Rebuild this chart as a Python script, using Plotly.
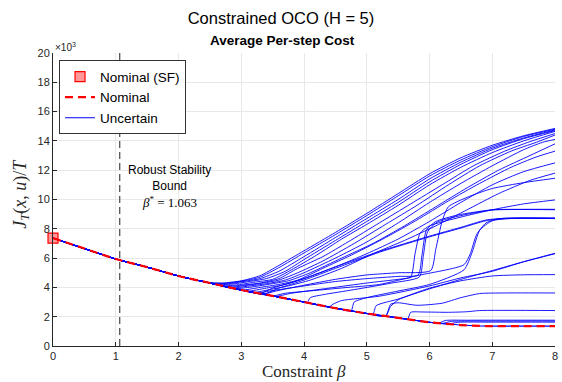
import plotly.graph_objects as go

# ---------------- data (values in units of 10^3) ----------------
NOM_B = [0, 0.5, 1, 1.5, 2, 2.5, 3, 3.5, 4, 4.5, 5, 5.5, 6, 6.5, 6.8, 7, 7.5, 8]
NOM_V = [7.37, 6.65, 5.94, 5.38, 4.78, 4.3, 3.82, 3.42, 3.0, 2.58, 2.22, 1.92, 1.62, 1.43, 1.37, 1.36, 1.36, 1.36]

SF_B = [0]
SF_V = [7.37]

BOUND_BETA = 1.063

# uncertain runs: knots (beta, cost) after leaving the nominal curve
U01 = [(2.45, 4.35), (2.7, 4.3), (3.0, 4.45), (3.3, 4.8), (3.6, 5.5), (4.0, 6.5), (4.5, 7.75), (5.0, 9.05), (5.5, 10.4), (6.0, 11.75), (6.5, 12.85), (7.0, 13.7), (7.5, 14.35), (8.0, 14.85)]
U02 = [(2.5, 4.3), (2.75, 4.28), (3.0, 4.42), (3.3, 4.7), (3.6, 5.35), (4.0, 6.35), (4.5, 7.6), (5.0, 8.9), (5.5, 10.25), (6.0, 11.6), (6.5, 12.7), (7.0, 13.6), (7.5, 14.3), (8.0, 14.8)]
U03 = [(2.55, 4.25), (2.8, 4.25), (3.0, 4.38), (3.3, 4.6), (3.6, 5.1), (4.0, 6.1), (4.5, 7.4), (5.0, 8.7), (5.5, 10.0), (6.0, 11.4), (6.5, 12.55), (7.0, 13.5), (7.5, 14.2), (8.0, 14.75)]
U04 = [(2.6, 4.2), (2.85, 4.22), (3.1, 4.38), (3.4, 4.6), (3.7, 5.1), (4.0, 5.9), (4.5, 7.2), (5.0, 8.5), (5.5, 9.8), (6.0, 11.2), (6.5, 12.4), (7.0, 13.4), (7.5, 14.15), (8.0, 14.7)]
U05 = [(2.7, 4.11), (2.95, 4.18), (3.2, 4.35), (3.5, 4.55), (3.8, 5.2), (4.2, 6.2), (4.6, 7.3), (5.0, 8.3), (5.5, 9.6), (6.0, 11.0), (6.5, 12.2), (7.0, 13.2), (7.5, 14.0), (8.0, 14.65)]
U06 = [(2.75, 4.06), (3.0, 4.15), (3.3, 4.3), (3.6, 4.6), (3.9, 5.3), (4.3, 6.1), (4.7, 7.1), (5.2, 8.4), (5.7, 9.7), (6.2, 11.0), (6.7, 12.3), (7.2, 13.3), (7.6, 13.95), (8.0, 14.5)]
U07 = [(2.8, 4.01), (3.05, 4.12), (3.35, 4.3), (3.6, 4.5), (3.9, 5.0), (4.3, 5.8), (4.8, 7.0), (5.3, 8.3), (5.8, 9.6), (6.3, 11.0), (6.8, 12.3), (7.3, 13.3), (7.7, 13.9), (8.0, 14.4)]
U08 = [(2.85, 3.96), (3.1, 4.08), (3.4, 4.25), (3.7, 4.5), (4.0, 5.0), (4.5, 6.0), (5.0, 7.1), (5.5, 8.4), (6.0, 9.8), (6.5, 11.1), (7.0, 12.3), (7.5, 13.4), (7.8, 13.9), (8.0, 14.1)]
U09 = [(2.9, 3.92), (3.15, 4.02), (3.45, 4.22), (3.75, 4.45), (4.1, 5.0), (4.6, 6.0), (5.1, 7.0), (5.6, 8.2), (6.1, 9.5), (6.6, 10.8), (7.1, 12.0), (7.6, 13.0), (8.0, 13.8)]
U10 = [(3.0, 3.82), (3.3, 4.0), (3.6, 4.2), (3.9, 4.5), (4.3, 5.3), (4.8, 6.3), (5.3, 7.4), (5.8, 8.6), (6.3, 9.9), (6.8, 11.1), (7.3, 12.2), (7.7, 12.9), (8.0, 13.3)]
U11 = [(3.1, 3.74), (3.4, 3.95), (3.7, 4.2), (4.0, 4.6), (4.5, 5.4), (5.0, 6.3), (5.5, 7.3), (6.0, 8.5), (6.5, 9.8), (7.0, 11.0), (7.5, 11.9), (8.0, 12.5)]
U12 = [(3.2, 3.66), (3.45, 3.85), (3.75, 4.1), (4.1, 4.5), (4.6, 5.3), (5.1, 6.3), (5.6, 7.2), (6.1, 8.2), (6.6, 9.3), (7.1, 10.4), (7.6, 11.3), (8.0, 11.8)]
U13 = [(3.25, 3.62), (3.45, 3.75), (4.0, 4.1), (4.5, 4.4), (5.0, 4.6), (5.5, 4.75), (5.82, 4.85), (5.88, 6.2), (5.95, 7.9), (6.1, 8.5), (6.45, 8.94), (7.0, 9.3), (7.5, 9.33), (8.0, 9.33)]
U14 = [(3.35, 3.54), (3.55, 3.75), (4.0, 4.15), (4.5, 4.55), (5.0, 4.85), (5.5, 5.0), (6.02, 5.15), (6.1, 6.6), (6.2, 8.5), (6.3, 9.5), (6.6, 10.15), (7.0, 10.75), (7.5, 11.15), (8.0, 11.45)]
U15 = [(3.3, 3.58), (3.5, 3.95), (4.0, 4.6), (4.5, 5.4), (5.2, 6.45), (6.0, 7.5), (6.5, 8.1), (6.9, 8.6), (7.2, 8.72), (8.0, 8.72)]
U16 = [(3.35, 3.54), (3.6, 3.95), (4.0, 4.5), (4.5, 5.3), (5.2, 6.4), (6.0, 7.45), (6.5, 8.05), (6.9, 8.55), (7.2, 8.7), (8.0, 8.7)]
U17 = [(3.5, 3.42), (3.7, 3.6), (4.2, 3.8), (4.7, 4.0), (5.2, 4.2), (5.8, 4.8), (6.55, 5.55), (6.65, 6.3), (6.75, 7.6), (6.9, 8.4), (7.1, 8.68), (7.4, 8.74), (8.0, 8.74)]
U18 = [(3.55, 3.38), (3.8, 3.6), (4.4, 3.95), (5.0, 4.3), (5.5, 4.55), (5.7, 4.7), (5.77, 6.3), (5.85, 7.7), (6.0, 8.2), (6.5, 8.8), (7.0, 9.3), (7.5, 9.7), (8.0, 9.97)]
U19 = [(4.4, 2.66), (4.46, 2.85), (4.6, 3.1), (5.2, 3.4), (6.0, 4.1), (6.5, 4.65), (7.0, 5.1), (7.5, 5.75), (8.0, 6.33)]
U20 = [(5.3, 2.04), (5.38, 2.7), (5.5, 3.15), (5.7, 3.5), (6.0, 3.95), (6.5, 4.45), (7.0, 4.78), (7.5, 4.86), (8.0, 4.87)]
U21 = [(5.3, 2.04), (5.38, 2.85), (5.5, 2.95), (5.8, 2.78), (6.2, 2.92), (6.5, 3.3), (6.8, 3.58), (7.2, 3.62), (8.0, 3.62)]
U22 = [(5.65, 1.83), (5.7, 2.3), (5.9, 2.32), (6.3, 2.3), (6.6, 2.34), (6.8, 2.42), (8.0, 2.42)]
U23 = [(6.15, 1.56), (6.25, 1.74), (6.6, 1.76), (8.0, 1.76)]
U24 = [(6.2, 1.54), (6.35, 1.68), (7.0, 1.7), (8.0, 1.7)]
U25 = [(6.3, 1.5), (6.45, 1.62), (7.0, 1.63), (8.0, 1.63)]
U26 = [(4.05, 2.96), (4.1, 3.3), (4.3, 3.5), (4.8, 3.85), (5.4, 4.3), (5.84, 4.72), (5.9, 6.1), (5.97, 7.8), (6.12, 8.45), (6.5, 8.9), (7.0, 9.28), (8.0, 9.3)]
U27 = [(4.75, 2.4), (4.8, 3.0), (5.0, 3.3), (5.5, 3.75), (6.0, 4.2), (6.55, 5.2), (6.68, 6.4), (6.8, 7.9), (7.0, 8.55), (7.3, 8.7), (8.0, 8.7)]
U28 = [(5.1, 2.16), (5.15, 2.75), (5.5, 3.2), (6.0, 3.9), (6.5, 4.55), (7.0, 5.15), (7.5, 5.75), (8.0, 6.3)]

UNCERTAIN = [U01, U02, U03, U04, U05, U06, U07, U08, U09, U10, U11, U12, U13, U14,
             U15, U16, U17, U18, U19, U20, U21, U22, U23, U24, U25, U26, U27, U28]

# ---------------- figure ----------------
SANS = "Liberation Sans, Arial, Helvetica, sans-serif"
SERIF = "Liberation Serif, Times New Roman, serif"
BLUE = "#0000ff"
RED = "#ff0000"
AX = "#262626"

fig = go.Figure()


def full_run(knots):
    b0 = knots[0][0]
    xs = [b for b in NOM_B if b < b0 - 1e-9]
    ys = [v for b, v in zip(NOM_B, NOM_V) if b < b0 - 1e-9]
    xs += [k[0] for k in knots]
    ys += [k[1] for k in knots]
    return xs, ys


# blue nominal-like run (under red dashes) - carries legend entry
fig.add_trace(go.Scatter(x=NOM_B, y=NOM_V, mode="lines", name="Uncertain",
                         line=dict(color=BLUE, width=1.1, shape="spline", smoothing=0.6),
                         legendgroup="unc", showlegend=True, legendrank=3))
for run in UNCERTAIN:
    xs, ys = full_run(run)
    fig.add_trace(go.Scatter(x=xs, y=ys, mode="lines", name="Uncertain",
                             line=dict(color=BLUE, width=0.9, shape="spline", smoothing=0.6),
                             legendgroup="unc", showlegend=False, hoverinfo="skip"))

fig.add_trace(go.Scatter(x=NOM_B, y=NOM_V, mode="lines", name="Nominal",
                         line=dict(color=RED, width=2.2, dash="8px,5px", shape="spline", smoothing=0.6),
                         legendrank=2))
fig.add_trace(go.Scatter(x=SF_B, y=SF_V, mode="markers", name="Nominal (SF)",
                         marker=dict(symbol="square", size=10, color="rgba(255,0,0,0.4)",
                                     line=dict(color=RED, width=1.2)),
                         cliponaxis=False, legendrank=1))

# robust stability bound
fig.add_shape(type="line", x0=BOUND_BETA, x1=BOUND_BETA, y0=0, y1=1, xref="x", yref="paper",
              line=dict(color="#555555", width=1.3, dash="7px,4px"))

fig.add_annotation(x=1.854, y=11.47, xref="x", yref="y", text="Robust Stability<br>Bound",
                   showarrow=False, font=dict(family=SANS, size=12, color="#000000"),
                   xanchor="center", yanchor="middle", align="center")
fig.add_annotation(x=1.854, y=9.83, xref="x", yref="y",
                   text="<i>β</i><sup>*</sup> = 1.063",
                   showarrow=False, font=dict(family=SERIF, size=13, color="#000000"),
                   xanchor="center", yanchor="middle")

# exponent label
fig.add_annotation(x=0.0, y=1.0, xref="paper", yref="paper", text="×10<sup>3</sup>",
                   showarrow=False, font=dict(family=SANS, size=10, color=AX),
                   xanchor="left", yanchor="bottom", yshift=-2)

# subtitle
fig.add_annotation(x=0.457, y=(346 - 40) / 293, xref="paper", yref="paper",
                   text="<b>Average Per-step Cost</b>", showarrow=False,
                   font=dict(family=SANS, size=13.5, color="#000000"),
                   xanchor="center", yanchor="middle")

# axis titles
fig.add_annotation(x=(21 - 53) / 505, y=0.52, xref="paper", yref="paper",
                   text="<i>J</i><sub><i>T</i></sub>(<i>x</i>, <i>u</i>)/<i>T</i>",
                   showarrow=False, textangle=-90, font=dict(family=SERIF, size=18, color=AX),
                   xanchor="center", yanchor="middle")
fig.add_annotation(x=0.5, y=(346 - 371) / 293, xref="paper", yref="paper",
                   text="Constraint <i>β</i>", showarrow=False,
                   font=dict(family=SERIF, size=17, color=AX),
                   xanchor="center", yanchor="middle")

axis_common = dict(showgrid=True, gridcolor="#e8e8e8", gridwidth=1, zeroline=False,
                   showline=True, linecolor=AX, linewidth=1, ticks="inside", ticklen=4,
                   tickcolor=AX, tickfont=dict(family=SANS, size=11, color=AX), mirror=False)

fig.update_layout(
    width=562, height=382,
    margin=dict(l=53, r=4, t=53, b=36),
    paper_bgcolor="white", plot_bgcolor="white",
    title=dict(text="Constrained OCO (H = 5)", x=0.5, xref="container", xanchor="center",
               y=1 - 18 / 382, yref="container", yanchor="middle",
               font=dict(family=SANS, size=16.5, color="#000000")),
    xaxis=dict(range=[0, 8], dtick=1, tick0=0, **axis_common),
    yaxis=dict(range=[0, 20], dtick=2, tick0=0, **axis_common),
    legend=dict(x=0.012, y=0.975, xanchor="left", yanchor="top", bgcolor="white",
                bordercolor="#333333", borderwidth=1,
                font=dict(family=SANS, size=13.5, color="#000000"),
                tracegroupgap=0, itemwidth=30),
    showlegend=True,
)

fig.write_html("out.html")
